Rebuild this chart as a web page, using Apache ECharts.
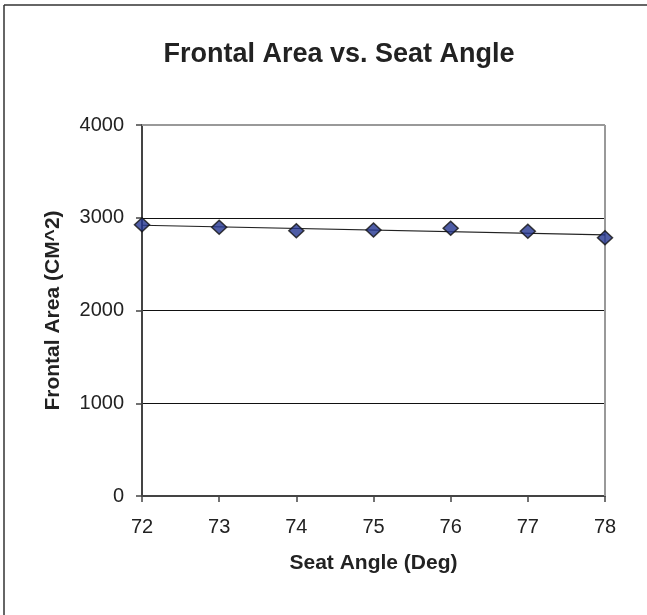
<!DOCTYPE html>
<html>
<head>
<meta charset="utf-8">
<script src="https://cdn.jsdelivr.net/npm/echarts@6/dist/echarts.min.js"></script>
<style>html,body{margin:0;padding:0;background:#fff;}#c{width:647px;height:615px;}</style>
</head>
<body>
<div id="c"></div>
<script>
var seatAngle = [72, 73, 74, 75, 76, 77, 78];
var frontalArea = [2925, 2897, 2860, 2868, 2886, 2854, 2785];
var yTicks = [0, 1000, 2000, 3000, 4000];

// linear trendline fitted to the data
var n = seatAngle.length, sx = 0, sy = 0, sxx = 0, sxy = 0;
for (var i = 0; i < n; i++) { sx += seatAngle[i]; sy += frontalArea[i]; sxx += seatAngle[i]*seatAngle[i]; sxy += seatAngle[i]*frontalArea[i]; }
var slope = (n*sxy - sx*sy) / (n*sxx - sx*sx);
var icpt = (sy - slope*sx) / n;
var xMin = seatAngle[0], xMax = seatAngle[n-1];
var trend = [[xMin, icpt + slope*xMin], [xMax, icpt + slope*xMax]];

var font = '"Liberation Sans", Arial, sans-serif';
var chart = echarts.init(document.getElementById('c'));
chart.setOption({
  animation: false,
  backgroundColor: '#fff',
  title: {
    text: 'Frontal Area vs. Seat Angle',
    left: 334, top: 36, textAlign: 'center',
    textStyle: { fontFamily: font, fontWeight: 'bold', fontSize: 27, color: '#222' }
  },
  graphic: [
    { type: 'line', shape: { x1: 4, y1: 5, x2: 4, y2: 615 }, style: { stroke: '#333', lineWidth: 1.5 } },
    { type: 'line', shape: { x1: 4, y1: 5, x2: 647, y2: 5 }, style: { stroke: '#333', lineWidth: 1.5 } },
    { type: 'line', shape: { x1: 142, y1: 125, x2: 605, y2: 125 }, style: { stroke: '#999', lineWidth: 2 }, z: 1 },
    { type: 'line', shape: { x1: 605, y1: 125, x2: 605, y2: 496 }, style: { stroke: '#999', lineWidth: 2 }, z: 1 }
  ],
  grid: { left: 142, top: 125, right: 42, bottom: 119, containLabel: false },
  xAxis: {
    type: 'value', min: 72, max: 78, interval: 1,
    name: 'Seat Angle (Deg)', nameLocation: 'middle', nameGap: 57,
    nameTextStyle: { fontFamily: font, fontWeight: 'bold', fontSize: 21, color: '#222' },
    axisLine: { show: true, lineStyle: { color: '#444', width: 2 } },
    axisTick: { show: true, inside: false, length: 6, lineStyle: { color: '#444', width: 1.5 } },
    axisLabel: { fontFamily: font, fontSize: 20, color: '#222', margin: 21 },
    splitLine: { show: false }
  },
  yAxis: {
    type: 'value', min: yTicks[0], max: yTicks[yTicks.length-1], interval: 1000,
    name: 'Frontal Area (CM^2)', nameLocation: 'middle', nameGap: 78,
    nameTextStyle: { fontFamily: font, fontWeight: 'bold', fontSize: 21, color: '#222' },
    axisLine: { show: true, lineStyle: { color: '#444', width: 2 } },
    axisTick: { show: true, inside: false, length: 6, lineStyle: { color: '#444', width: 1.5 } },
    axisLabel: { fontFamily: font, fontSize: 20, color: '#222', margin: 18, formatter: function (v) { return String(v); } },
    splitLine: { show: true, lineStyle: { color: '#111', width: 1 } }
  },
  series: [
    {
      type: 'line', data: trend, symbol: 'none', silent: true,
      lineStyle: { color: '#222', width: 1.2 }, z: 2
    },
    {
      type: 'scatter',
      data: seatAngle.map(function (x, i) { return [x, frontalArea[i]]; }),
      symbol: 'diamond', symbolSize: [15, 14],
      itemStyle: { color: '#233590', borderColor: '#111', borderWidth: 1.5 }, z: 3
    }
  ]
});
</script>
</body>
</html>
